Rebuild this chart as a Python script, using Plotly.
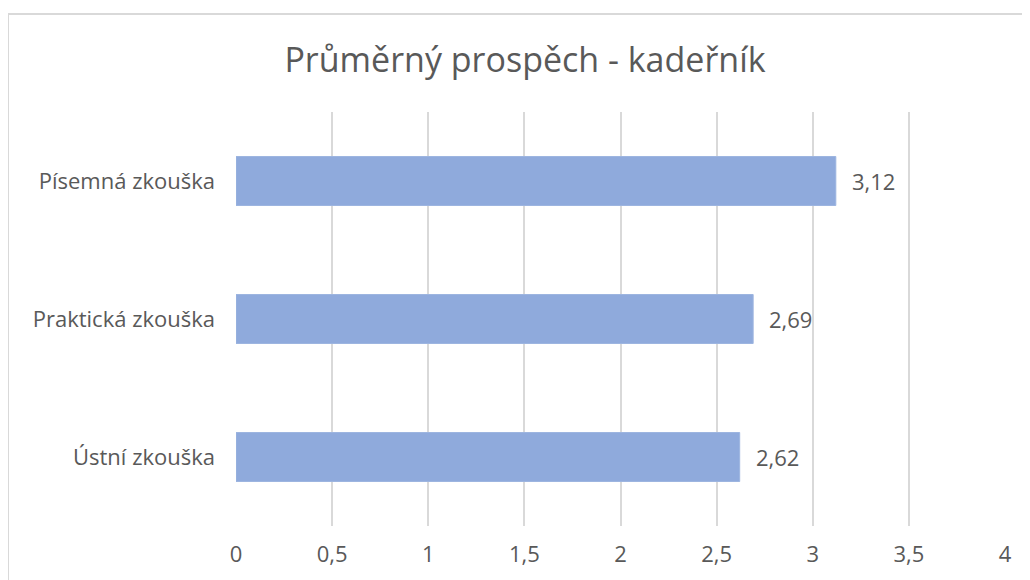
import plotly.graph_objects as go

# Average grades - hairdresser exam
categories = ['Ústní zkouška', 'Praktická zkouška', 'Písemná zkouška']
values = [2.62, 2.69, 3.12]
tick_vals = [0, 0.5, 1, 1.5, 2, 2.5, 3, 3.5, 4]
tick_text = ['0', '0,5', '1', '1,5', '2', '2,5', '3', '3,5', '4']

font_family = 'Open Sans, Noto Sans, sans-serif'
text_color = '#595959'

# the page adds an 8px body margin, so the figure is a bit smaller than the window
W, H = 1022, 572

fig = go.Figure()

fig.add_trace(go.Bar(
    x=values, y=categories, orientation='h',
    marker=dict(color='#8faadc', line=dict(color='#9db5e0', width=1)),
    hoverinfo='x+y'
))

# value labels, placed a little right of each bar end
for v, c in zip(values, categories):
    fig.add_annotation(x=v, y=c, text=f'{v:.2f}'.replace('.', ','),
                       xanchor='left', xshift=14, showarrow=False,
                       font=dict(family=font_family, size=22, color=text_color))

# light grey chart frame, like the Excel chart area border
fig.add_shape(type='rect', xref='paper', yref='paper',
              x0=-228 / 769, x1=1.2, y0=-0.3, y1=(518 - 6) / 414,
              line=dict(color='#d9d9d9', width=2), layer='below')

fig.update_layout(
    width=W, height=H,
    margin=dict(l=228, r=25, t=104, b=54),
    paper_bgcolor='white', plot_bgcolor='white',
    title=dict(text='Průměrný prospěch - kadeřník', x=(525 - 8) / W, xref='container',
               xanchor='center', y=1 - 52 / H, yanchor='middle',
               font=dict(family=font_family, size=34, color=text_color)),
    bargap=0.645,
    showlegend=False,
    xaxis=dict(range=[0, 4], tickvals=tick_vals, ticktext=tick_text,
               showgrid=True, gridcolor='#d9d9d9', gridwidth=2,
               zeroline=False, showline=False, ticks='',
               ticklabelstandoff=13,
               tickfont=dict(family=font_family, size=22, color=text_color)),
    yaxis=dict(showgrid=False, zeroline=False, showline=False, ticks='',
               ticklabelstandoff=20,
               tickfont=dict(family=font_family, size=22, color=text_color)),
)

fig.write_html("out.html")
